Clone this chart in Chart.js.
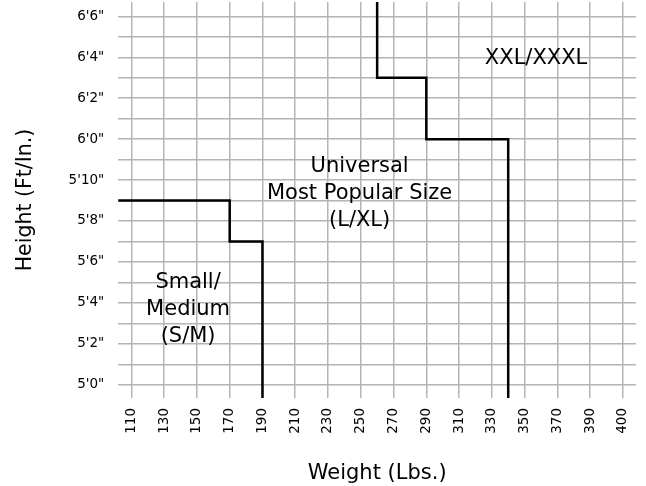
<!DOCTYPE html>
<html>
<head>
<meta charset="utf-8">
<script src="https://cdn.jsdelivr.net/npm/chart.js@4/dist/chart.umd.min.js"></script>
<style>
    html, body { margin: 0; padding: 0; background: #fff; }
    #wrap { width: 646px; height: 486px; }
</style>
</head>
<body>
<div id="wrap"><canvas id="sizeChart"></canvas></div>
<script>
// Weight axis (lbs). Gridlines every 20; the last one is labelled 400.
var weightTicks = [110, 130, 150, 170, 190, 210, 230, 250, 270, 290, 310, 330, 350, 370, 390, 410];
var weightTickLabels = ['110', '130', '150', '170', '190', '210', '230', '250', '270', '290', '310', '330', '350', '370', '390', '400'];

// Height axis in inches, gridline every inch, label every 2 inches.
var heightTicks = [60, 61, 62, 63, 64, 65, 66, 67, 68, 69, 70, 71, 72, 73, 74, 75, 76, 77, 78];
var heightTickLabels = ['5\'0"', '5\'2"', '5\'4"', '5\'6"', '5\'8"', '5\'10"', '6\'0"', '6\'2"', '6\'4"', '6\'6"'];

// Size boundaries (weight, height in inches). Values past the axes run to the edge.
var smallMediumWeights = [100, 170, 170, 190, 190];
var smallMediumHeights = [69, 69, 67, 67, 58];
var universalWeights = [260, 260, 290, 290, 340, 340];
var universalHeights = [80, 75, 75, 72, 72, 58];

var regionNames = [
    ['Small/', 'Medium', '(S/M)'],
    ['Universal', 'Most Popular Size', '(L/XL)'],
    ['XXL/XXXL']
];
var regionWeights = [144.6, 249.3, 357];
var regionHeights = [63.67, 69.32, 75.95];

var fontFamily = '"DejaVu Sans", sans-serif';

function toPoints(xs, ys) {
    var pts = [];
    for (let i = 0; i < xs.length; i++) {
        pts.push({ x: xs[i], y: ys[i] });
    }
    return pts;
}

//Writes the size names inside their regions.
var regionLabelPlugin = {
    id: 'regionLabels',
    afterDatasetsDraw: function (chart) {
        var ctx = chart.ctx;
        var xScale = chart.scales.x;
        var yScale = chart.scales.y;
        var lineHeight = 27;
        ctx.save();
        ctx.fillStyle = '#000';
        ctx.font = '21px ' + fontFamily;
        ctx.textAlign = 'center';
        ctx.textBaseline = 'middle';
        regionNames.forEach(function (lines, r) {
            var cx = xScale.getPixelForValue(regionWeights[r]);
            var cy = yScale.getPixelForValue(regionHeights[r]);
            var startY = cy - (lines.length - 1) * lineHeight / 2;
            lines.forEach(function (line, i) {
                ctx.fillText(line, cx, startY + i * lineHeight);
            });
        });
        ctx.restore();
    }
};

var sizeChart = new Chart(document.getElementById('sizeChart'), {
    type: 'line',
    data: {
        datasets: [
            {
                label: 'Small/Medium',
                data: toPoints(smallMediumWeights, smallMediumHeights),
                borderColor: '#000',
                borderWidth: 2.5,
                pointRadius: 0,
                tension: 0,
                fill: false
            },
            {
                label: 'Universal',
                data: toPoints(universalWeights, universalHeights),
                borderColor: '#000',
                borderWidth: 2.5,
                pointRadius: 0,
                tension: 0,
                fill: false
            }
        ]
    },
    options: {
        responsive: true,
        maintainAspectRatio: false,
        animation: false,
        layout: {
            padding: { top: 2, right: 10, bottom: 0, left: 0 }
        },
        scales: {
            x: {
                type: 'linear',
                min: 102,
                max: 418,
                afterBuildTicks: function (scale) {
                    scale.ticks = weightTicks.map(function (v) { return { value: v }; });
                },
                afterFit: function (scale) {
                    scale.paddingLeft = 0;
                    scale.paddingRight = 0;
                },
                border: { display: false },
                grid: {
                    color: '#b4b4b4',
                    lineWidth: 1.5,
                    drawTicks: false
                },
                ticks: {
                    color: '#000',
                    font: { family: fontFamily, size: 13.5 },
                    minRotation: 90,
                    maxRotation: 90,
                    padding: 10,
                    autoSkip: false,
                    callback: function (value, index) {
                        return weightTickLabels[index];
                    }
                },
                title: {
                    display: true,
                    text: 'Weight (Lbs.)',
                    color: '#000',
                    font: { family: fontFamily, size: 21 },
                    padding: { top: 17, bottom: 0 }
                }
            },
            y: {
                type: 'linear',
                min: 59.35,
                max: 78.7,
                afterBuildTicks: function (scale) {
                    scale.ticks = heightTicks.map(function (v) { return { value: v }; });
                },
                afterFit: function (scale) {
                    scale.paddingTop = 0;
                    scale.paddingBottom = 0;
                },
                border: { display: false },
                grid: {
                    color: '#b4b4b4',
                    lineWidth: 1.5,
                    drawTicks: false
                },
                ticks: {
                    color: '#000',
                    font: { family: fontFamily, size: 13.5 },
                    padding: 14,
                    autoSkip: false,
                    callback: function (value) {
                        if ((value - 60) % 2 !== 0) {
                            return '';
                        }
                        return heightTickLabels[(value - 60) / 2];
                    }
                },
                title: {
                    display: true,
                    text: 'Height (Ft/In.)',
                    color: '#000',
                    font: { family: fontFamily, size: 20.5 },
                    padding: { top: 13, bottom: 17 }
                }
            }
        },
        plugins: {
            legend: { display: false },
            tooltip: { enabled: false }
        }
    },
    plugins: [regionLabelPlugin]
});
</script>
</body>
</html>
